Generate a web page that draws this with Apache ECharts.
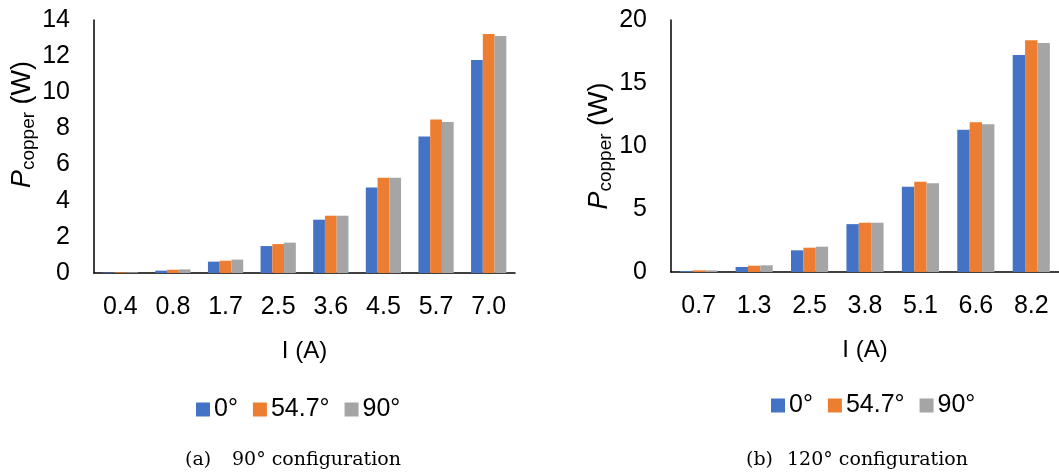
<!DOCTYPE html>
<html>
<head>
<meta charset="utf-8">
<script src="https://cdn.jsdelivr.net/npm/echarts@6/dist/echarts.min.js"></script>
<style>
html,body{margin:0;padding:0;background:#fff;}
#chart{width:1059px;height:475px;}
</style>
</head>
<body>
<div id="chart"></div>
<script>
// ---- Data ----
const seriesNames = ['0°', '54.7°', '90°'];
const leftCategories = ['0.4', '0.8', '1.7', '2.5', '3.6', '4.5', '5.7', '7.0'];
const left0 = [0.03, 0.13, 0.63, 1.49, 2.95, 4.73, 7.55, 11.79];
const left547 = [0.04, 0.18, 0.68, 1.60, 3.17, 5.27, 8.49, 13.22];
const left90 = [0.04, 0.20, 0.74, 1.68, 3.17, 5.27, 8.36, 13.11];

const rightCategories = ['0.7', '1.3', '2.5', '3.8', '5.1', '6.6', '8.2'];
const right0 = [0.08, 0.40, 1.72, 3.80, 6.76, 11.28, 17.23];
const right547 = [0.13, 0.50, 1.93, 3.91, 7.16, 11.89, 18.39];
const right90 = [0.13, 0.53, 2.01, 3.91, 7.05, 11.73, 18.18];

const leftYTicks = {min: 0, max: 14, interval: 2};
const rightYTicks = {min: 0, max: 20, interval: 5};

const xName = 'I (A)';
const captionA = ['(a)', '90° configuration'];
const captionB = ['(b)', '120° configuration'];

// ---- Styles ----
const colors = ['#4472C4', '#ED7D31', '#A5A5A5'];
const FONT = "'Liberation Sans', Arial, sans-serif";
const SERIF = "'DejaVu Serif', serif";

const chart = echarts.init(document.getElementById('chart'), null, {renderer: 'canvas'});

function yAxisCfg(gi, ticks, padLeft) {
  return {
    type: 'value', gridIndex: gi,
    min: ticks.min, max: ticks.max, interval: ticks.interval,
    axisLine: {show: true, lineStyle: {color: '#000', width: 1.5}},
    axisTick: {show: false},
    splitLine: {show: false},
    axisLabel: {color: '#000', fontSize: 25, fontFamily: FONT, margin: 24},
    name: '{p|P}{s|copper} (W)',
    nameLocation: 'middle',
    nameRotate: 90,
    nameGap: 43,
    nameTextStyle: {
      color: '#000', fontSize: 27, fontFamily: FONT, lineHeight: 32,
      padding: [0, 0, 0, padLeft],
      rich: {
        p: {fontStyle: 'italic', fontSize: 27, fontFamily: FONT, color: '#000', lineHeight: 32},
        s: {fontSize: 19, fontFamily: FONT, color: '#000', verticalAlign: 'bottom', lineHeight: 20}
      }
    }
  };
}

function xAxisCfg(gi, cats) {
  return {
    type: 'category', gridIndex: gi, data: cats,
    axisLine: {show: true, lineStyle: {color: '#000', width: 1.5}},
    axisTick: {show: false},
    axisLabel: {color: '#000', fontSize: 25, fontFamily: FONT, margin: 22, interval: 0},
    name: xName,
    nameLocation: 'middle',
    nameGap: 66,
    nameTextStyle: {color: '#000', fontSize: 24, fontFamily: FONT}
  };
}

function barSeries(name, data, gi, ci) {
  return {
    type: 'bar', name: name, data: data,
    xAxisIndex: gi, yAxisIndex: gi,
    barGap: '0%', barCategoryGap: '33%',
    itemStyle: {color: colors[ci]},
    emphasis: {disabled: true},
    animation: false
  };
}

const capStyle = {fontFamily: SERIF, fontSize: 19, fontWeight: 'normal', color: '#000'};

const option = {
  animation: false,
  color: colors,
  grid: [
    {left: 94, right: 544, top: 20, bottom: 202},
    {left: 671, right: -9, top: 20, bottom: 203}
  ],
  xAxis: [xAxisCfg(0, leftCategories), xAxisCfg(1, rightCategories)],
  yAxis: [yAxisCfg(0, leftYTicks, 44), yAxisCfg(1, rightYTicks, 0)],
  legend: [
    {left: 196, top: 397, itemWidth: 14, itemHeight: 14, itemGap: 15, padding: 0,
     icon: 'rect', data: seriesNames, selectedMode: false,
     textStyle: {fontSize: 25, color: '#000', fontFamily: FONT, padding: [0, 0, 0, -1]}},
    {left: 771, top: 393, itemWidth: 14, itemHeight: 14, itemGap: 15, padding: 0,
     icon: 'rect', data: seriesNames, selectedMode: false,
     textStyle: {fontSize: 25, color: '#000', fontFamily: FONT, padding: [0, 0, 0, -1]}}
  ],
  title: [
    {text: captionA[0], left: 185, top: 451, padding: 0, textStyle: capStyle},
    {text: captionA[1], left: 232, top: 451, padding: 0, textStyle: capStyle},
    {text: captionB[0], left: 746, top: 451, padding: 0, textStyle: capStyle},
    {text: captionB[1], left: 787, top: 451, padding: 0, textStyle: capStyle}
  ],
  series: [
    barSeries(seriesNames[0], left0, 0, 0),
    barSeries(seriesNames[1], left547, 0, 1),
    barSeries(seriesNames[2], left90, 0, 2),
    barSeries(seriesNames[0], right0, 1, 0),
    barSeries(seriesNames[1], right547, 1, 1),
    barSeries(seriesNames[2], right90, 1, 2)
  ]
};
chart.setOption(option);
</script>
</body>
</html>
